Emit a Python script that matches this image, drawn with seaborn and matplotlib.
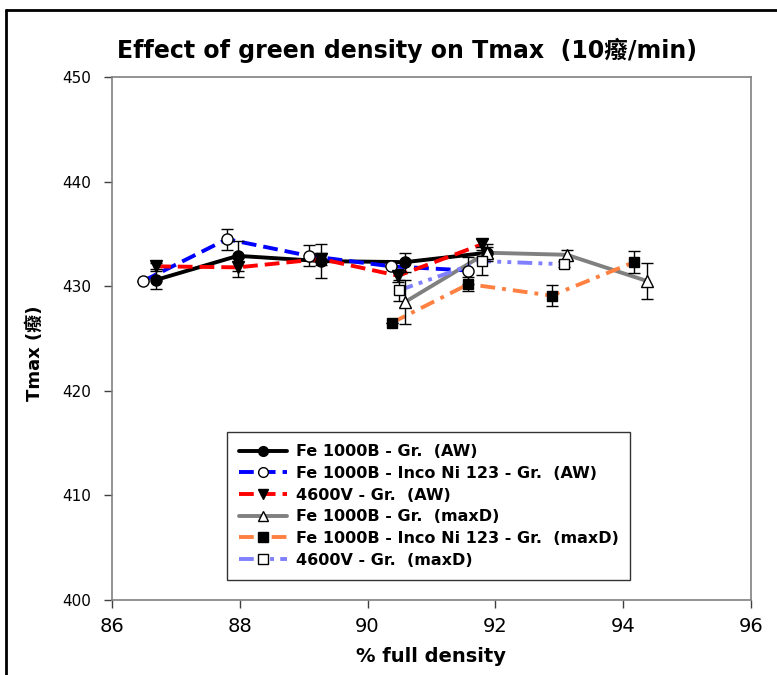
import numpy as np
import pandas as pd
import seaborn as sns
import matplotlib
matplotlib.use("Agg")
import matplotlib.pyplot as plt
from matplotlib.lines import Line2D

sns.set_style("white")
plt.rcParams['font.family'] = ['DejaVu Sans', 'Noto Sans CJK SC']
plt.rcParams['text.color'] = 'black'
plt.rcParams['axes.labelcolor'] = 'black'
plt.rcParams['xtick.color'] = 'black'
plt.rcParams['ytick.color'] = 'black'

# ---- data ----
labels = [
    "Fe 1000B - Gr.  (AW)",
    "Fe 1000B - Inco Ni 123 - Gr.  (AW)",
    "4600V - Gr.  (AW)",
    "Fe 1000B - Gr.  (maxD)",
    "Fe 1000B - Inco Ni 123 - Gr.  (maxD)",
    "4600V - Gr.  (maxD)",
]
fe_aw_x = [86.69, 87.97, 89.27, 90.59, 91.87]
fe_aw_y = [430.6, 432.9, 432.4, 432.3, 433.2]
fe_aw_e = [0.9, 1.4, 1.6, 0.9, 0.8]

inco_aw_x = [86.49, 87.8, 89.08, 90.37, 91.58]
inco_aw_y = [430.5, 434.5, 432.9, 431.9, 431.5]
inco_aw_e = [0.0, 1.0, 1.0, 0.0, 1.3]

v_aw_x = [86.69, 87.97, 89.27, 90.48, 91.79]
v_aw_y = [431.9, 431.8, 432.6, 431.0, 434.0]
v_aw_e = [0.3, 0.9, 0.6, 0.6, 0.5]

fe_md_x = [90.59, 91.87, 93.12, 94.37]
fe_md_y = [428.5, 433.2, 433.0, 430.5]
fe_md_e = [2.1, 0.5, 0.5, 1.7]

inco_md_x = [90.38, 91.58, 92.88, 94.17]
inco_md_y = [426.5, 430.2, 429.1, 432.3]
inco_md_e = [0.0, 0.7, 1.0, 1.05]

v_md_x = [90.49, 91.79, 93.08]
v_md_y = [429.6, 432.4, 432.1]
v_md_e = [1.0, 1.3, 0.3]

xs = [fe_aw_x, inco_aw_x, v_aw_x, fe_md_x, inco_md_x, v_md_x]
ys = [fe_aw_y, inco_aw_y, v_aw_y, fe_md_y, inco_md_y, v_md_y]
es = [fe_aw_e, inco_aw_e, v_aw_e, fe_md_e, inco_md_e, v_md_e]

colors = ["#000000", "#0000FF", "#FF0000", "#808080", "#FF8040", "#8080FF"]
dashes = ["", (3.8, 1.8), (3.8, 1.8), "", (3.8, 1.8, 1.0, 1.8),
          (3.8, 1.6, 1.0, 1.6, 1.0, 1.6)]
markers = ["o", "o", "v", "^", "s", "s"]
mfaces = ["black", "white", "black", "white", "black", "white"]

rows = []
for lab, x, y, e in zip(labels, xs, ys, es):
    for a, b, c in zip(x, y, e):
        rows.append({"series": lab, "x": a, "y": b, "err": c})
df = pd.DataFrame(rows)

fig = plt.figure(figsize=(7.77, 6.75), dpi=100)
ax = fig.add_axes([0.144, 0.111, 0.8225, 0.775])

sns.lineplot(data=df, x="x", y="y", hue="series", style="series",
             palette=dict(zip(labels, colors)), dashes=dict(zip(labels, dashes)),
             hue_order=labels, style_order=labels,
             linewidth=2.8, sort=False, estimator=None, legend=False, ax=ax, zorder=2)

for lab, mk, fc in zip(labels, markers, mfaces):
    d = df[df.series == lab]
    ax.errorbar(d.x, d.y, yerr=d.err, fmt="none", ecolor="black", elinewidth=1,
                capsize=4.5, capthick=1, zorder=3)
    ax.plot(d.x, d.y, linestyle="none", marker=mk, markersize=8 if mk != "s" else 7,
            markerfacecolor=fc, markeredgecolor="black", markeredgewidth=1, zorder=4)

ax.set_xlim(86, 96)
ax.set_ylim(400, 450)
ax.set_xticks(range(86, 97, 2))
ax.set_yticks(range(400, 451, 10))
for s in ax.spines.values():
    s.set_color("#808080")
    s.set_linewidth(1.2)
ax.tick_params(axis="both", which="major", direction="out", length=6, width=1,
               color="#404040", left=True, bottom=True)
ax.tick_params(axis="y", labelsize=11, pad=9)
ax.tick_params(axis="x", labelsize=14, pad=6)
ax.set_xlabel("% full density", fontsize=14, fontweight="bold", labelpad=8)
ax.set_ylabel("Tmax (癈)", fontsize=13, fontweight="bold")
ax.yaxis.set_label_coords(-0.106, 0.472)
ax.set_title("Effect of green density on Tmax  (10癈/min)", fontsize=17,
             fontweight="bold", pad=14, x=0.462)

handles = []
for c, d, mk, fc in zip(colors, dashes, markers, mfaces):
    h = Line2D([], [], color=c, linewidth=2.8, marker=mk, markersize=7 if mk != "s" else 6.5,
               markerfacecolor=fc, markeredgecolor="black", markeredgewidth=1)
    if d:
        h.set_dashes(d)
    handles.append(h)
leg = ax.legend(handles, labels, loc="upper left", bbox_to_anchor=(0.18, 0.321),
                frameon=True, fancybox=False, edgecolor="black",
                prop={"weight": "bold", "size": 11.5}, handlelength=3.0,
                borderpad=0.75, labelspacing=0.42, handletextpad=0.55,
                borderaxespad=0)
leg.get_frame().set_linewidth(1)
# widen the legend box slightly to match the reference frame
fig.canvas.draw()
bb = leg.get_frame().get_bbox()
leg.get_frame().set_width(bb.width + 6)

# outer frame (top and left visible)
fig.add_artist(Line2D([0.008, 1.0], [0.985, 0.985], color="black", linewidth=2,
                      transform=fig.transFigure))
fig.add_artist(Line2D([0.008, 0.008], [0.0, 0.985], color="black", linewidth=2,
                      transform=fig.transFigure))

fig.savefig("out.png", dpi=100)
